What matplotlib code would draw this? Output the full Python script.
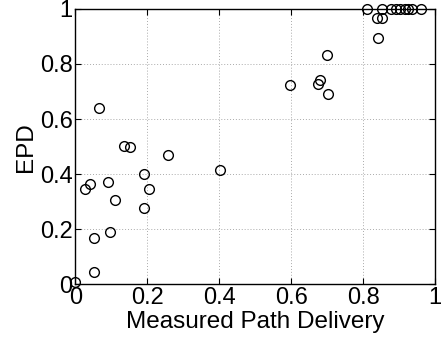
import matplotlib
matplotlib.use("Agg")
import matplotlib.pyplot as plt

# measured path delivery vs EPD
mpd = [0.0, 0.051, 0.051, 0.095, 0.027, 0.041, 0.091, 0.109, 0.136, 0.151,
       0.191, 0.204, 0.191, 0.256, 0.401, 0.066,
       0.596, 0.675, 0.680, 0.700, 0.703, 0.841, 0.839, 0.852,
       0.811, 0.853, 0.878, 0.892, 0.903, 0.915, 0.925, 0.935, 0.961]
epd = [0.007, 0.044, 0.168, 0.191, 0.345, 0.366, 0.373, 0.307, 0.504, 0.499,
       0.402, 0.345, 0.279, 0.470, 0.416, 0.640,
       0.725, 0.726, 0.743, 0.833, 0.691, 0.896, 0.967, 0.967,
       1.0, 1.0, 1.0, 1.0, 1.0, 1.0, 1.0, 1.0, 1.0]

ticks = [0, 0.2, 0.4, 0.6, 0.8, 1]
tick_labels = ["0", "0.2", "0.4", "0.6", "0.8", "1"]

plt.rcParams['font.family'] = ['Liberation Sans', 'DejaVu Sans']

fig = plt.figure(figsize=(4.44, 3.41), dpi=100)
ax = fig.add_axes([0.170, 0.166, 0.810, 0.808])

ax.plot(mpd, epd, linestyle='none', marker='o', markersize=7,
        markerfacecolor='none', markeredgecolor='black', markeredgewidth=1.0,
        clip_on=False, zorder=3)

ax.set_xlim(0, 1)
ax.set_ylim(0, 1)
ax.set_xticks(ticks)
ax.set_xticklabels(tick_labels)
ax.set_yticks(ticks)
ax.set_yticklabels(tick_labels)
ax.tick_params(direction='in', top=True, right=True, labelsize=17, length=4, pad=2)
ax.tick_params(axis='x', pad=2)
ax.grid(True, linestyle=(0, (1, 2)), color='#aaaaaa', linewidth=0.7)
for s in ax.spines.values():
    s.set_linewidth(1.0)

ax.set_xlabel('Measured Path Delivery', fontsize=17.5, labelpad=1)
ax.set_ylabel('EPD', fontsize=17.5, labelpad=2)

fig.savefig('out.png', dpi=100)
